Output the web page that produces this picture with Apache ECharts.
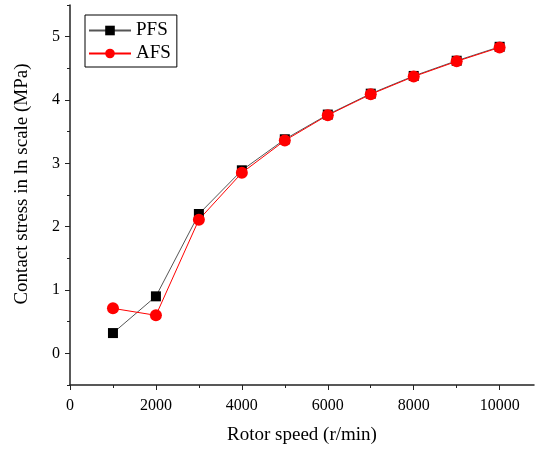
<!DOCTYPE html>
<html>
<head>
<meta charset="utf-8">
<script src="https://cdn.jsdelivr.net/npm/echarts@6/dist/echarts.min.js"></script>
<style>
  html, body { margin: 0; padding: 0; background: #fff; }
  #main { width: 536px; height: 450px; }
</style>
</head>
<body>
<div id="main"></div>
<script>
// rotor speed (r/min)
var speeds = [1000, 2000, 3000, 4000, 5000, 6000, 7000, 8000, 9000, 10000];
// contact stress, ln scale
var pfs = [0.32, 0.90, 2.20, 2.89, 3.38, 3.77, 4.10, 4.38, 4.62, 4.84];
var afs = [0.71, 0.60, 2.11, 2.85, 3.36, 3.76, 4.09, 4.37, 4.61, 4.83];
var yTicks = [0, 1, 2, 3, 4, 5];
var yMinorTicks = [-0.5, 0.5, 1.5, 2.5, 3.5, 4.5, 5.5];
var xTicks = [0, 2000, 4000, 6000, 8000, 10000];
var xMinorTicks = [1000, 3000, 5000, 7000, 9000];

var font = '"Liberation Serif", "Times New Roman", serif';
var axisColor = '#222';

function pairs(xs, ys) {
    return xs.map(function (x, i) { return [x, ys[i]]; });
}

var myChart = echarts.init(document.getElementById('main'));
myChart.setOption({
    animation: false,
    grid: { left: 70, right: 2, top: 5, bottom: 64 },
    legend: {
        left: 85, top: 15,
        orient: 'vertical',
        borderColor: '#000', borderWidth: 1,
        padding: [6, 6, 4, 3],
        itemWidth: 42, itemHeight: 12, itemGap: 4,
        textStyle: { fontFamily: font, fontSize: 19, color: '#000' },
        data: ['PFS', 'AFS']
    },
    xAxis: [{
        type: 'value', min: 0, max: 10800,
        name: 'Rotor speed (r/min)', nameLocation: 'middle', nameGap: 41,
        nameTextStyle: { fontFamily: font, fontSize: 19, color: '#000' },
        axisLine: { onZero: false, lineStyle: { color: axisColor, width: 1.5 } },
        axisTick: { customValues: xTicks, length: 5, lineStyle: { color: axisColor } },
        axisLabel: {
            customValues: xTicks, fontFamily: font, fontSize: 16, color: '#000', margin: 13,
            formatter: function (v) { return String(v); }
        },
        splitLine: { show: false }
    }, {
        type: 'value', min: 0, max: 10800, position: 'bottom',
        axisLine: { show: false, onZero: false },
        axisTick: { customValues: xMinorTicks, length: 3, lineStyle: { color: axisColor } },
        axisLabel: { show: false },
        splitLine: { show: false }
    }],
    yAxis: [{
        type: 'value', min: -0.5, max: 5.5,
        name: 'Contact stress in ln scale (MPa)', nameLocation: 'middle', nameGap: 38,
        nameTextStyle: { fontFamily: font, fontSize: 19, color: '#000', padding: [0, 0, 0, 22] },
        axisLine: { show: true, onZero: false, lineStyle: { color: axisColor, width: 1.5 } },
        axisTick: { show: true, customValues: yTicks, length: 5, lineStyle: { color: axisColor } },
        axisLabel: { customValues: yTicks, fontFamily: font, fontSize: 16, color: '#000', margin: 10 },
        splitLine: { show: false }
    }, {
        type: 'value', min: -0.5, max: 5.5, position: 'left',
        axisLine: { show: false, onZero: false },
        axisTick: { show: true, customValues: yMinorTicks, length: 3, lineStyle: { color: axisColor } },
        axisLabel: { show: false },
        splitLine: { show: false }
    }],
    series: [{
        name: 'PFS', type: 'line',
        data: pairs(speeds, pfs),
        symbol: 'rect', symbolSize: 10,
        itemStyle: { color: '#000' },
        lineStyle: { color: '#555', width: 1 }
    }, {
        name: 'AFS', type: 'line',
        data: pairs(speeds, afs),
        symbol: 'circle', symbolSize: 12,
        itemStyle: { color: '#ff0000' },
        lineStyle: { color: '#ff0000', width: 1 }
    }]
});
</script>
</body>
</html>
